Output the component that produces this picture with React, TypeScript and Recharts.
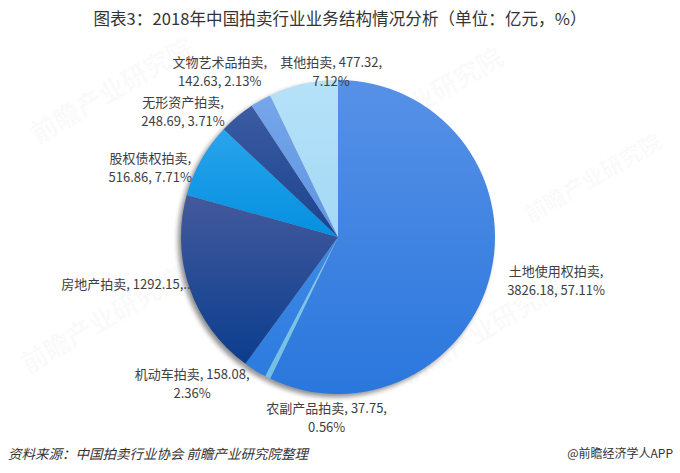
import { Cell, Pie, PieChart } from 'recharts'

const categories = [
  '土地使用权拍卖',
  '农副产品拍卖',
  '机动车拍卖',
  '房地产拍卖',
  '股权债权拍卖',
  '无形资产拍卖',
  '文物艺术品拍卖',
  '其他拍卖',
]

const amounts = [3826.18, 37.75, 158.08, 1292.15, 516.86, 248.69, 142.63, 477.32]

const shares = ['57.11%', '0.56%', '2.36%', '19.29%', '7.71%', '3.71%', '2.13%', '7.12%']

// gradient top / bottom for each slice
const COLORS = [
  ['#5791e7', '#2a77dd'],
  ['#82cdf0', '#6fbfe8'],
  ['#3f8ae6', '#2c7bdf'],
  ['#44599c', '#0b3e8e'],
  ['#2aa4ec', '#0390e0'],
  ['#3c5ba2', '#1a448f'],
  ['#76a6ea', '#5f94e3'],
  ['#b6e2f9', '#a3d8f5'],
]

// where each label sits relative to the slice's outer edge, and how it wraps
const LABEL_LAYOUT: Record<string, { dx: number; dy: number; wrap: 'name' | 'value' | 'cut' }> = {
  土地使用权拍卖: { dx: 65, dy: 8, wrap: 'name' },
  农副产品拍卖: { dx: 59, dy: 39, wrap: 'value' },
  机动车拍卖: { dx: -63, dy: 12, wrap: 'value' },
  房地产拍卖: { dx: -62, dy: -6, wrap: 'cut' },
  股权债权拍卖: { dx: -51, dy: 7, wrap: 'name' },
  无形资产拍卖: { dx: -54, dy: -6, wrap: 'name' },
  文物艺术品拍卖: { dx: -41, dy: -30, wrap: 'name' },
  其他拍卖: { dx: 28, dy: -13, wrap: 'value' },
}

const data = categories.map((name, i) => ({ name, value: amounts[i], share: shares[i] }))

const FONT = '"Noto Sans CJK SC", "Noto Sans", sans-serif'
const RADIAN = Math.PI / 180

function SliceLabel(props: any) {
  const { cx, cy, midAngle, outerRadius, name, value, payload } = props
  const layout = LABEL_LAYOUT[name]
  const x = cx + outerRadius * Math.cos(-midAngle * RADIAN) + layout.dx
  const y = cy + outerRadius * Math.sin(-midAngle * RADIAN) + layout.dy
  const share = payload.share

  let lines: string[]
  if (layout.wrap === 'name') lines = [`${name},`, `${value.toFixed(2)}, ${share}`]
  else if (layout.wrap === 'value') lines = [`${name}, ${value.toFixed(2)},`, share]
  else lines = [`${name}, ${value.toFixed(2)},...`]

  const lh = 19
  const top = y - ((lines.length - 1) * lh) / 2

  return (
    <text
      x={x}
      y={top}
      textAnchor="middle"
      dominantBaseline="central"
      fill="#404040"
      fontSize={13}
      fontFamily={FONT}
    >
      {lines.map((line, i) => (
        <tspan key={i} x={x} y={top + i * lh}>
          {line}
        </tspan>
      ))}
    </text>
  )
}

const WATERMARKS = [
  { left: 20, top: 70, size: 26 },
  { left: 330, top: 80, size: 26 },
  { left: 390, top: 310, size: 26 },
  { left: 10, top: 300, size: 26 },
  { left: 515, top: 160, size: 22 },
]

export default function App() {
  return (
    <div
      style={{
        position: 'absolute',
        left: 0,
        top: 0,
        width: 680,
        height: 473,
        background: '#fff',
        overflow: 'hidden',
        fontFamily: FONT,
      }}
    >
      {WATERMARKS.map((w, i) => (
        <div
          key={i}
          style={{
            position: 'absolute',
            left: w.left,
            top: w.top,
            fontSize: w.size,
            fontWeight: 700,
            color: 'rgba(120,120,120,0.05)',
            transform: 'rotate(-30deg)',
            whiteSpace: 'nowrap',
          }}
        >
          前瞻产业研究院
        </div>
      ))}

      <div
        style={{
          position: 'absolute',
          left: 0,
          top: 6,
          width: 680,
          textAlign: 'center',
          fontSize: 16.5,
          color: '#333',
          letterSpacing: 0.1,
        }}
      >
        图表3：2018年中国拍卖行业业务结构情况分析（单位：亿元，%）
      </div>

      <div style={{ position: 'absolute', left: 0, top: 0 }}>
        <PieChart width={680} height={473} margin={{ top: 0, right: 0, bottom: 0, left: 0 }}>
          <defs>
            {COLORS.map(([a, b], i) => (
              <linearGradient key={i} id={`slice-${i}`} x1="0" y1="0" x2="0" y2="1">
                <stop offset="0%" stopColor={a} />
                <stop offset="100%" stopColor={b} />
              </linearGradient>
            ))}
            <filter id="pie-shadow" x="-20%" y="-20%" width="140%" height="140%">
              <feGaussianBlur in="SourceAlpha" stdDeviation="2.5" />
              <feOffset dx="-3" dy="3" result="blur" />
              <feComponentTransfer>
                <feFuncA type="linear" slope="0.45" />
              </feComponentTransfer>
            </filter>
          </defs>

          {/* shadow */}
          <Pie
            data={data}
            dataKey="value"
            nameKey="name"
            cx={338}
            cy={237}
            outerRadius={157}
            startAngle={90}
            endAngle={-270}
            stroke="none"
            fill="#000"
            style={{ filter: 'url(#pie-shadow)' }}
            isAnimationActive={false}
          />

          <Pie
            data={data}
            dataKey="value"
            nameKey="name"
            cx={338}
            cy={237}
            outerRadius={157}
            startAngle={90}
            endAngle={-270}
            stroke="none"
            isAnimationActive={false}
          >
            {data.map((entry, index) => (
              <Cell key={entry.name} fill={`url(#slice-${index})`} />
            ))}
          </Pie>

          {/* labels drawn on top of the slices */}
          <Pie
            data={data}
            dataKey="value"
            nameKey="name"
            cx={338}
            cy={237}
            outerRadius={157}
            startAngle={90}
            endAngle={-270}
            stroke="none"
            fill="transparent"
            label={SliceLabel}
            labelLine={false}
            isAnimationActive={false}
          />
        </PieChart>
      </div>

      <div
        style={{
          position: 'absolute',
          left: 8,
          top: 443,
          fontSize: 13.5,
          fontStyle: 'italic',
          color: '#333',
        }}
      >
        资料来源：中国拍卖行业协会 前瞻产业研究院整理
      </div>
      <div
        style={{
          position: 'absolute',
          right: 7,
          top: 444,
          fontSize: 12,
          color: '#333',
        }}
      >
        @前瞻经济学人APP
      </div>
    </div>
  )
}
